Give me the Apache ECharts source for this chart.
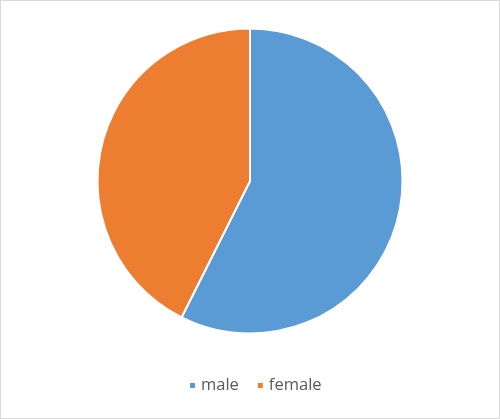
<!DOCTYPE html>
<html>
<head>
<meta charset="utf-8">
<script src="https://cdn.jsdelivr.net/npm/echarts@6/dist/echarts.min.js"></script>
<style>
html,body{margin:0;padding:0;background:#fff;}
#wrap{position:absolute;left:0;top:0;width:500px;height:419px;box-sizing:border-box;border:1px solid #d9d9d9;}
#chart{position:absolute;left:0;top:0;width:500px;height:419px;}
</style>
</head>
<body>
<div id="wrap"></div>
<div id="chart"></div>
<script>
const categories = ['male', 'female'];
const values = [57.4, 42.6];
const colors = ['#5B9BD5', '#ED7D31'];

const chart = echarts.init(document.getElementById('chart'), null, {renderer: 'canvas'});
chart.setOption({
  animation: false,
  backgroundColor: 'transparent',
  color: colors,
  legend: {
    data: categories,
    top: 372,
    left: 183,
    icon: 'rect',
    itemWidth: 7,
    itemHeight: 7,
    itemGap: 17,
    textStyle: {color: '#595959', fontSize: 16.5, fontFamily: 'Open Sans'}
  },
  series: [{
    type: 'pie',
    center: [250, 181],
    radius: [0, 152.5],
    startAngle: 90,
    clockwise: true,
    label: {show: false},
    labelLine: {show: false},
    emphasis: {disabled: true},
    itemStyle: {borderColor: '#ffffff', borderWidth: 2},
    data: categories.map((c, i) => ({name: c, value: values[i]}))
  }]
});
</script>
</body>
</html>
